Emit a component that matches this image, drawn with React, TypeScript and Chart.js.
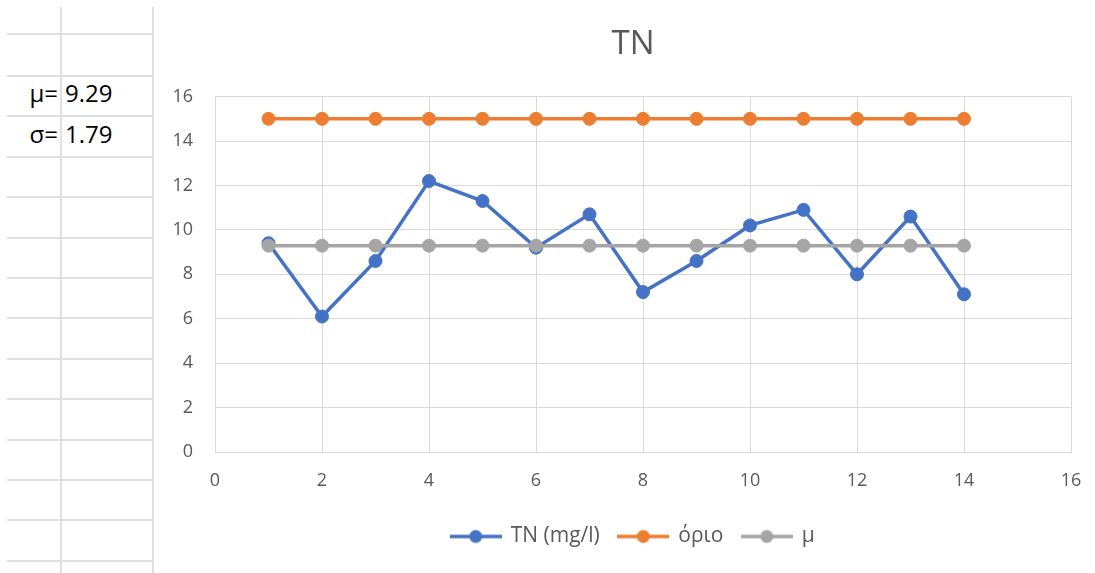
import React, { useEffect, useRef } from "react";
import { Chart, registerables } from "chart.js";

Chart.register(...registerables);

// ---- Data ----
const chartTitle = "TN";
const sampleX = [1, 2, 3, 4, 5, 6, 7, 8, 9, 10, 11, 12, 13, 14];
const tnValues = [9.4, 6.1, 8.6, 12.2, 11.3, 9.2, 10.7, 7.2, 8.6, 10.2, 10.9, 8.0, 10.6, 7.1];
const limitValues = [15, 15, 15, 15, 15, 15, 15, 15, 15, 15, 15, 15, 15, 15];
const meanValues = [9.29, 9.29, 9.29, 9.29, 9.29, 9.29, 9.29, 9.29, 9.29, 9.29, 9.29, 9.29, 9.29, 9.29];
const seriesNames = ["TN (mg/l)", "όριο", "μ"];
const seriesColors = ["#4472C4", "#ED7D31", "#A5A5A5"];
const axisMin = 0;
const axisMax = 16;
const axisStep = 2;
const statLabels = ["μ=", "σ="];
const statValues = ["9.29", "1.79"];

const FONT = "'Open Sans', 'DejaVu Sans', sans-serif";

function makeLegendIcon(color: string): HTMLCanvasElement {
  const c = document.createElement("canvas");
  c.width = 52;
  c.height = 16;
  const ctx = c.getContext("2d")!;
  ctx.strokeStyle = color;
  ctx.lineWidth = 3.5;
  ctx.beginPath();
  ctx.moveTo(0, 8);
  ctx.lineTo(52, 8);
  ctx.stroke();
  ctx.fillStyle = color;
  ctx.beginPath();
  ctx.arc(26, 8, 6.5, 0, Math.PI * 2);
  ctx.fill();
  return c;
}

// Centre the title and legend over the whole chart object (as in the spreadsheet)
const shiftBlocksPlugin = {
  id: "shiftBlocks",
  afterLayout(chart: any) {
    const shift = 20;
    const blocks = [chart.titleBlock, chart.legend];
    blocks.forEach((b: any) => {
      if (b) {
        b.left += shift;
        b.right += shift;
      }
    });
  },
};

const rowLines = [34, 76, 116, 157, 197, 238, 278, 318, 359, 399, 440, 480, 520, 561];
const colLines = [61, 153];

export default function App() {
  const canvasRef = useRef<HTMLCanvasElement | null>(null);

  useEffect(() => {
    const canvas = canvasRef.current;
    if (!canvas) return;
    const seriesData = [tnValues, limitValues, meanValues];
    const icons = seriesColors.map(makeLegendIcon);
    const chart = new Chart(canvas, {
      type: "line",
      data: {
        datasets: seriesData.map((vals, i) => ({
          label: seriesNames[i],
          data: vals.map((v, j) => ({ x: sampleX[j], y: v })),
          borderColor: seriesColors[i],
          backgroundColor: seriesColors[i],
          pointBackgroundColor: seriesColors[i],
          pointBorderColor: seriesColors[i],
          borderWidth: 3.5,
          pointRadius: 6.5,
          pointBorderWidth: 1,
          tension: 0,
          fill: false,
          order: 3 - i,
        })),
      },
      plugins: [shiftBlocksPlugin],
      options: {
        responsive: false,
        animation: false,
        devicePixelRatio: 1,
        layout: { padding: { left: 0, right: 24, top: 0, bottom: 16 } },
        plugins: {
          title: {
            display: true,
            text: chartTitle,
            color: "#595959",
            font: { family: FONT, size: 33, weight: "normal" },
            padding: { top: 25, bottom: 32 },
          },
          legend: {
            position: "bottom",
            labels: {
              usePointStyle: true,
              pointStyleWidth: 49,
              padding: 19,
              color: "#595959",
              font: { family: FONT, size: 21 },
              generateLabels: (ch: any) =>
                ch.data.datasets.map((ds: any, i: number) => ({
                  text: ds.label,
                  fillStyle: seriesColors[i],
                  strokeStyle: seriesColors[i],
                  pointStyle: icons[i],
                  hidden: !ch.isDatasetVisible(i),
                  datasetIndex: i,
                  fontColor: "#595959",
                  lineWidth: 0,
                })),
            },
          },
          tooltip: { enabled: false },
        },
        scales: {
          x: {
            type: "linear",
            min: axisMin,
            max: axisMax,
            ticks: {
              stepSize: axisStep,
              color: "#595959",
              font: { family: FONT, size: 18 },
              padding: 18,
            },
            grid: { color: "#D9D9D9", lineWidth: 1, drawTicks: false },
            border: { color: "#D9D9D9", width: 1 },
            afterFit: (scale: any) => {
              scale.height = 55;
              scale.paddingRight = 0;
              scale.paddingLeft = 0;
            },
          },
          y: {
            type: "linear",
            min: axisMin,
            max: axisMax,
            ticks: {
              stepSize: axisStep,
              color: "#595959",
              font: { family: FONT, size: 18 },
              padding: 22,
            },
            grid: { color: "#D9D9D9", lineWidth: 1, drawTicks: false },
            border: { color: "#D9D9D9", width: 1 },
            afterFit: (scale: any) => {
              scale.width = 60;
            },
          },
        },
      },
    } as any);
    return () => chart.destroy();
  }, []);

  return (
    <div
      style={{
        position: "fixed",
        left: 0,
        top: 0,
        width: 1095,
        height: 573,
        background: "#fff",
        overflow: "hidden",
      }}
    >
      {rowLines.map((y, i) => (
        <div
          key={"r" + i}
          style={{ position: "absolute", left: 7, top: y - 1, width: 147, height: 2, background: "#E0E0E0" }}
        />
      ))}
      {colLines.map((x, i) => (
        <div
          key={"c" + i}
          style={{ position: "absolute", left: x - 1, top: 7, width: 2, height: 566, background: "#E0E0E0" }}
        />
      ))}
      {statLabels.map((s, i) => (
        <React.Fragment key={"s" + i}>
          <div
            style={{
              position: "absolute",
              left: 0,
              width: 58,
              top: 81 + i * 41,
              fontFamily: FONT,
              fontSize: 24,
              lineHeight: "24px",
              textAlign: "right",
              color: "#000",
              whiteSpace: "nowrap",
            }}
          >
            {s}
          </div>
          <div
            style={{
              position: "absolute",
              left: 65,
              top: 81 + i * 41,
              fontFamily: FONT,
              fontSize: 24,
              lineHeight: "24px",
              color: "#000",
              whiteSpace: "nowrap",
            }}
          >
            {statValues[i]}
          </div>
        </React.Fragment>
      ))}
      <canvas
        ref={canvasRef}
        width={940}
        height={573}
        style={{ position: "absolute", left: 155, top: 0, width: 940, height: 573, background: "#fff" }}
      />
    </div>
  );
}
